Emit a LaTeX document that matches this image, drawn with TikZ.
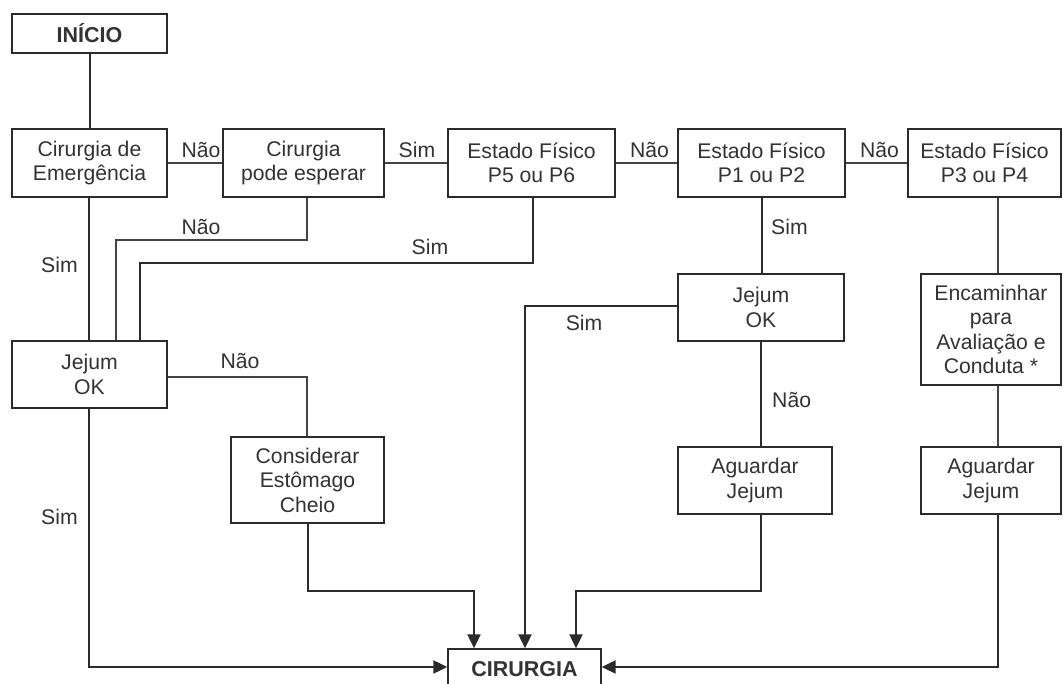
\documentclass[tikz,border=0pt]{standalone}
\usepackage{fontspec}
\setmainfont{Liberation Sans}
\usetikzlibrary{arrows.meta}
\definecolor{ink}{HTML}{2B2B2B}
\definecolor{thin}{HTML}{444444}
\definecolor{txt}{HTML}{333333}
\begin{document}
\begin{tikzpicture}[x=1pt,y=-1pt,
  font=\fontsize{21.2}{24.5}\selectfont, text=txt,
  box/.style={draw=ink, line width=1.3pt, align=center, inner sep=0pt, fill=white},
  thickbox/.style={box, line width=2pt},
  boldtext/.style={font=\fontsize{21.5}{24}\selectfont\bfseries},
  lbl/.style={inner sep=0pt, anchor=base},
  lblw/.style={inner sep=0pt, anchor=base west},
  wire/.style={draw=thin, line width=1.5pt},
  heavy/.style={draw=ink, line width=2pt},
  tip/.style={heavy, -{Triangle[length=14pt,width=13pt]}}
]
\useasboundingbox (0,0) rectangle (1063,684);
\clip (0,0) rectangle (1063,684);
\fill[white] (0,0) rectangle (1063,684);

% top row
\node[thickbox, boldtext, minimum width=155, minimum height=39] (inicio) at (89.5,33.5) {INÍCIO};
\node[thickbox, minimum width=155, minimum height=68] (emerg) at (89.5,163) {Cirurgia de\\Emergência};
\node[thickbox, minimum width=161, minimum height=68] (espera) at (303.5,163) {Cirurgia\\pode esperar};
\node[thickbox, minimum width=167, minimum height=68] (p56) at (531.5,163) {Estado Físico\\P5 ou P6};
\node[thickbox, minimum width=167, minimum height=68] (p12) at (761.5,163) {Estado Físico\\P1 ou P2};
\node[thickbox, minimum width=153, minimum height=68] (p34) at (984.5,163) {Estado Físico\\P3 ou P4};

% middle and lower boxes
\node[thickbox, minimum width=155, minimum height=67] (jejumA) at (89.5,374.5) {Jejum\\OK};
\node[box, minimum width=166, minimum height=67] (jejumB) at (761,307.5) {Jejum\\OK};
\node[box, minimum width=140, minimum height=111] (encam) at (991,329.5) {Encaminhar\\para\\Avaliação e\\Conduta *};
\node[box, minimum width=153, minimum height=86] (consid) at (307.5,480) {Considerar\\Estômago\\Cheio};
\node[box, minimum width=154, minimum height=67] (aguardB) at (755,480.5) {Aguardar\\Jejum};
\node[box, minimum width=140, minimum height=67] (aguardC) at (991,480.5) {Aguardar\\Jejum};
\node[box, boldtext, minimum width=153, minimum height=41] (cirurgia) at (524.5,669.5) {CIRURGIA};

% bend points
\coordinate (lx) at (89,300);
\coordinate (e1) at (307,240);
\coordinate (e2) at (116,240);
\coordinate (f1) at (533,263);
\coordinate (f2) at (140,263);
\coordinate (n1) at (307,377);
\coordinate (s1) at (525,306);
\coordinate (k1) at (474,591);
\coordinate (m1) at (576,591);
\coordinate (rx) at (998,250);
\coordinate (ay) at (0,667);

% connectors along the top row
\draw[heavy] (inicio) -- (emerg);
\draw[wire] (emerg) -- (espera);
\draw[wire] (espera) -- (p56);
\draw[wire] (p56) -- (p12);
\draw[wire] (p12) -- (p34);

% left column
\draw[heavy] (emerg.south -| lx) -- (jejumA.north -| lx);
\draw[wire] (espera.south -| e1) -- (e1) -- (e2) -- (e2 |- jejumA.north);
\draw[heavy] (p56.south -| f1) -- (f1) -- (f2) -- (f2 |- jejumA.north);
\draw[wire] (jejumA.east |- n1) -- (n1) -- (n1 |- consid.north);

% middle column
\draw[heavy] (p12.south) -- (p12.south |- jejumB.north);
\draw[heavy] (jejumB.south) -- (jejumB.south |- aguardB.north);

% right column
\draw[wire] (p34.south -| rx) -- (encam.north -| rx);
\draw[wire] (encam.south -| rx) -- (aguardC.north -| rx);

% arrows into CIRURGIA
\draw[tip] (jejumA.south -| lx) |- (cirurgia.west |- ay);
\draw[tip] (consid.south) |- (k1) -- (k1 |- cirurgia.north);
\draw[tip] (jejumB.west |- s1) -- (s1) -- (s1 |- cirurgia.north);
\draw[tip] (aguardB.south -| jejumB.south) |- (m1) -- (m1 |- cirurgia.north);
\draw[tip] (aguardC.south -| rx) |- (cirurgia.east |- ay);

% branch labels
\node[lbl] (l1) at (201,158) {Não};
\node[lbl] (l2) at (417,158) {Sim};
\node[lbl] (l3) at (649.5,158) {Não};
\node[lbl] (l4) at (879.5,158) {Não};
\node[lbl] (l5) at (201,235) {Não};
\node[lbl] (l6) at (430,255) {Sim};
\node[lbl] (l7) at (59.5,273) {Sim};
\node[lbl] (l8) at (240,369) {Não};
\node[lbl] (l9) at (59.5,524) {Sim};
\node[lblw] (l10) at (771,235) {Sim};
\node[lbl] (l11) at (584,331) {Sim};
\node[lblw] (l12) at (772,407) {Não};
\end{tikzpicture}
\end{document}
